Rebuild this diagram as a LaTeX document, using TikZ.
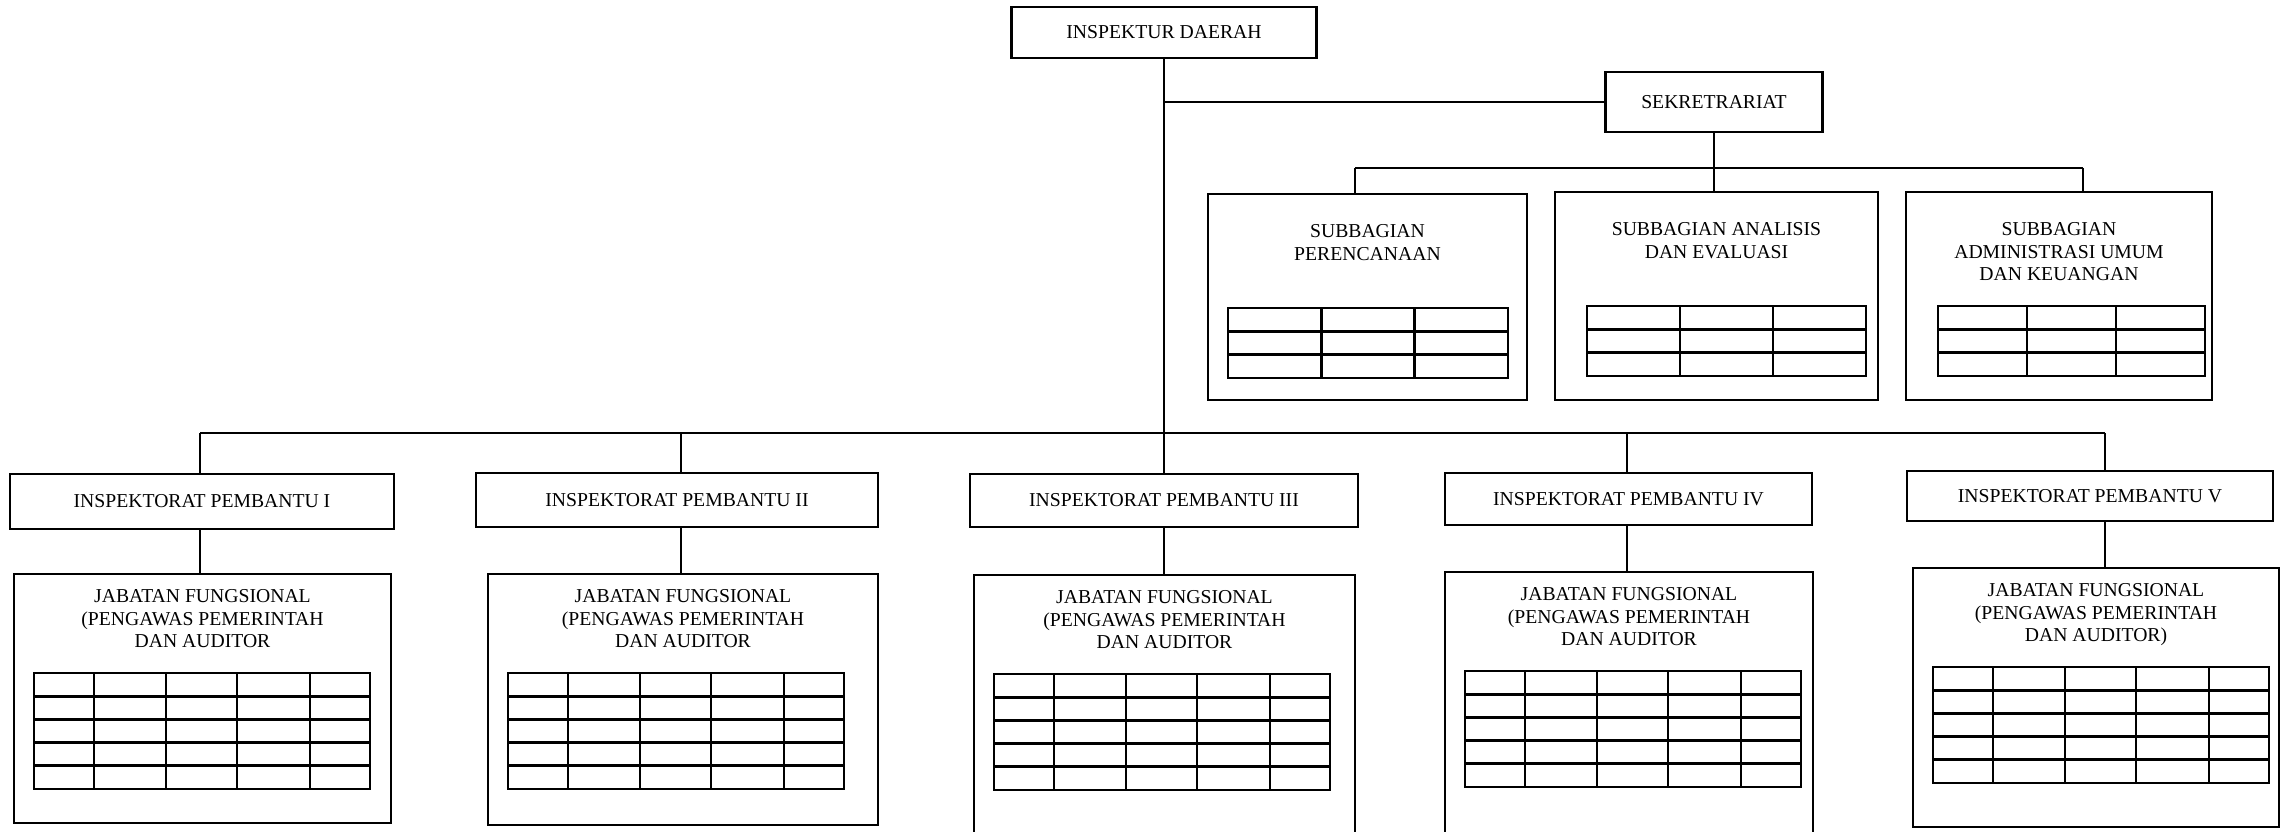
\documentclass[tikz,border=0pt]{standalone}
\usepackage{fontspec}
\setmainfont{Liberation Serif}
\usetikzlibrary{positioning,calc}
\begin{document}
\begin{tikzpicture}[line width=.57pt,
	every node/.style={font=\fontsize{5.6}{6.3}\selectfont},
	kotak/.style={draw, line width=.6pt, inner sep=0pt},
	teks/.style={inner sep=0pt, align=center},
	tabel/.style={line width=.8pt}]
\clip (0,0) rectangle (22.88,-8.32);
\node[kotak, minimum width=3.05cm, minimum height=.51cm] (kepala) at (11.64,-.325) {INSPEKTUR DAERAH};
\node[kotak, minimum width=2.17cm, minimum height=.60cm] (sek) at (17.14,-1.02) {SEKRETRARIAT};
\node[kotak, minimum width=3.19cm, minimum height=2.06cm] (sub1) at (13.675,-2.97) {};
\node[kotak, minimum width=3.23cm, minimum height=2.08cm] (sub2) at (17.165,-2.96) {};
\node[kotak, minimum width=3.06cm, minimum height=2.08cm] (sub3) at (20.59,-2.96) {};
\node[teks, below=.31cm of sub1.north] (st1) {SUBBAGIAN\\PERENCANAAN};
\node[teks, below=.31cm of sub2.north] (st2) {SUBBAGIAN ANALISIS\\DAN EVALUASI};
\node[teks, below=.31cm of sub3.north] (st3) {SUBBAGIAN\\ADMINISTRASI UMUM\\DAN KEUANGAN};
\node[kotak, minimum width=3.84cm, minimum height=.55cm] (ip1) at (2.02,-5.015) {INSPEKTORAT PEMBANTU I};
\node[kotak, minimum width=4.02cm, minimum height=.54cm] (ip2) at (6.77,-5.00) {INSPEKTORAT PEMBANTU II};
\node[kotak, minimum width=3.88cm, minimum height=.53cm] (ip3) at (11.64,-5.005) {INSPEKTORAT PEMBANTU III};
\node[kotak, minimum width=3.67cm, minimum height=.52cm] (ip4) at (16.285,-4.99) {INSPEKTORAT PEMBANTU IV};
\node[kotak, minimum width=3.66cm, minimum height=.50cm] (ip5) at (20.90,-4.96) {INSPEKTORAT PEMBANTU V};
\node[kotak, minimum width=3.77cm, minimum height=2.49cm] (jf1) at (2.025,-6.985) {};
\node[kotak, minimum width=3.90cm, minimum height=2.51cm] (jf2) at (6.83,-6.995) {};
\node[kotak, minimum width=3.81cm, minimum height=2.85cm] (jf3) at (11.645,-7.175) {};
\node[kotak, minimum width=3.68cm, minimum height=2.88cm] (jf4) at (16.29,-7.16) {};
\node[kotak, minimum width=3.66cm, minimum height=2.59cm] (jf5) at (20.96,-6.975) {};
\foreach \n in {1,...,4}{
	\node[teks, below=.16cm of jf\n.north] (jt\n) {JABATAN FUNGSIONAL\\(PENGAWAS PEMERINTAH\\DAN AUDITOR};}
\node[teks, below=.16cm of jf5.north] (jt5) {JABATAN FUNGSIONAL\\(PENGAWAS PEMERINTAH\\DAN AUDITOR)};
\foreach \n/\dx/\w in {1/.21/2.80, 2/.33/2.79, 3/.33/2.67}{
	\begin{scope}[shift={($(sub\n.north west)+(\dx,-1.15)$)}]
	\draw[tabel] (0,0) rectangle (\w,-.70);
	\foreach \y in {-.233,-.467} \draw[tabel] (0,\y) -- (\w,\y);
	\draw[tabel] (\w/3,0) -- (\w/3,-.70);
	\draw[tabel] (2*\w/3,0) -- (2*\w/3,-.70);
	\end{scope}}
\foreach \n in {1,...,5}{
	\begin{scope}[shift={($(jf\n.north west)+(.21,-1.00)$)}]
	\draw[tabel] (0,0) rectangle (3.36,-1.16);
	\foreach \y in {-.232,-.464,-.696,-.928} \draw[tabel] (0,\y) -- (3.36,\y);
	\foreach \x in {.60,1.32,2.03,2.76} \draw[tabel] (\x,0) -- (\x,-1.16);
	\end{scope}}
\draw (kepala.south |- sek.west) -- (sek.west);
\coordinate (s1) at (13.55,-1.68);
\coordinate (s3) at (20.83,-1.68);
\draw (s1) -- (s3);
\draw (sek.south) -- (sek.south |- sub2.north);
\draw (s1) -- (s1 |- sub1.north);
\draw (s3) -- (s3 |- sub3.north);
\coordinate (p1) at (2.00,-4.33);
\coordinate (p2) at (6.81,-4.33);
\coordinate (p3) at (11.64,-4.33);
\coordinate (p4) at (16.27,-4.33);
\coordinate (p5) at (21.05,-4.33);
\draw (kepala.south) -- (p3);
\draw (p1) -- (p5);
\foreach \n in {1,...,5}{
	\draw (p\n) -- (p\n |- ip\n.north);
	\draw (p\n |- ip\n.south) -- (p\n |- jf\n.north);}
\end{tikzpicture}
\end{document}
